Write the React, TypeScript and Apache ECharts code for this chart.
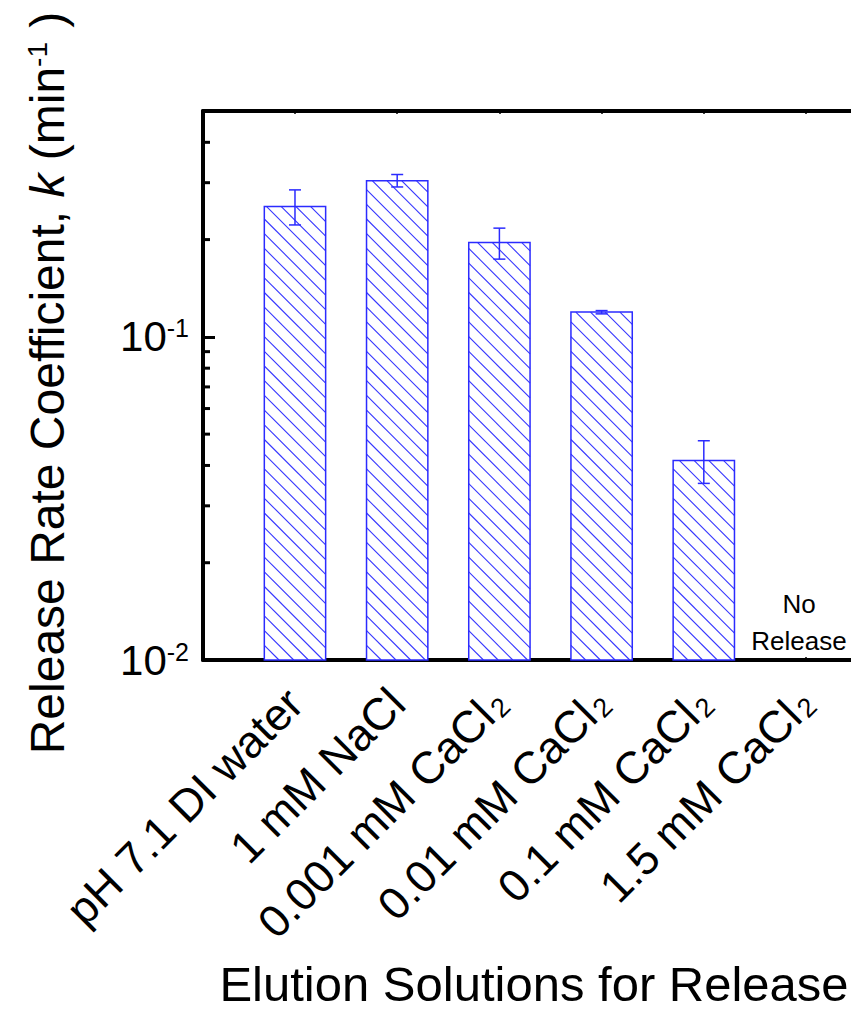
import React, { useEffect, useRef } from 'react';
import * as echarts from 'echarts';

// ---------- data ----------
const solutions = [
  'pH 7.1 DI water',
  '1 mM NaCl',
  '0.001 mM CaCl2',
  '0.01 mM CaCl2',
  '0.1 mM CaCl2',
  '1.5 mM CaCl2',
];
const xPositions = [1, 2, 3, 4, 5, 6];
const kMean: (number | null)[] = [0.253, 0.304, 0.196, 0.1193, 0.0414, null];
const kUpper: (number | null)[] = [0.285, 0.318, 0.217, 0.1206, 0.0477, null];
const kLower: (number | null)[] = [0.222, 0.291, 0.174, 0.1178, 0.0352, null];
const yMinorTicks = [0.02, 0.03, 0.04, 0.05, 0.06, 0.07, 0.08, 0.09, 0.2, 0.3, 0.4];
const noReleaseText = 'No\nRelease';

const X_MIN = 0.1;
const X_MAX = 6.9;
const Y_MIN = 0.01;
const Y_MAX = 0.5;

const FONT = "Arial, 'Liberation Sans', Helvetica, sans-serif";
const BLUE = '#3636ff';
const BLUE_EDGE = '#2b2bff';

export default function App() {
  const ref = useRef<HTMLDivElement>(null);
  useEffect(() => {
    document.body.style.margin = '0';
    const chart = echarts.init(ref.current!, null, { renderer: 'svg' });

    const barData = xPositions
      .map((x, i) => [x, kMean[i]])
      .filter((d) => d[1] != null);
    const errData = xPositions
      .map((x, i) => [x, kLower[i], kUpper[i]])
      .filter((d) => d[1] != null);
    const noRelData = xPositions.filter((_, i) => kMean[i] == null).map((x) => [x, Y_MIN]);

    const HATCH_STEP = 14.7;

    const option: any = {
      animation: false,
      backgroundColor: '#ffffff',
      grid: {
        left: 203,
        top: 111,
        width: 695,
        height: 549,
        outerBoundsMode: 'none',
      },
      xAxis: [
        {
          type: 'value',
          min: X_MIN,
          max: X_MAX,
          position: 'bottom',
          splitLine: { show: false },
          axisLine: { show: true, onZero: false, lineStyle: { color: '#000', width: 4 } },
          axisTick: {
            show: true,
            inside: true,
            length: 3,
            lineStyle: { color: '#000', width: 1.5 },
            customValues: xPositions,
          },
          axisLabel: {
            show: true,
            customValues: xPositions,
            rotate: 45,
            margin: 36,
            fontSize: 45,
            fontFamily: FONT,
            color: '#000',
            formatter: (v: number) => {
              const s = solutions[Math.round(v) - 1] || '';
              return s.replace(/CaCl2$/, 'CaCl{sub|2}');
            },
            rich: {
              sub: {
                fontSize: 27,
                fontFamily: FONT,
                color: '#000',
                verticalAlign: 'bottom',
                lineHeight: 27,
                padding: [30, 0, 0, 3],
              },
            },
          },
        },
        {
          type: 'value',
          min: X_MIN,
          max: X_MAX,
          position: 'top',
          splitLine: { show: false },
          axisLine: { show: true, onZero: false, lineStyle: { color: '#000', width: 4 } },
          axisTick: {
            show: true,
            inside: true,
            length: 3,
            lineStyle: { color: '#000', width: 1.5 },
            customValues: xPositions,
          },
          axisLabel: { show: false },
        },
      ],
      yAxis: [
        {
          type: 'log',
          logBase: 10,
          min: Y_MIN,
          max: Y_MAX,
          position: 'left',
          splitLine: { show: false },
          axisLine: { show: true, onZero: false, lineStyle: { color: '#000', width: 4 } },
          axisTick: { show: true, inside: true, length: 12, lineStyle: { color: '#000', width: 3 } },
          minorTick: { show: false },
          axisLabel: {
            showMaxLabel: false,
            margin: 14,
            fontSize: 42,
            fontFamily: FONT,
            color: '#000',
            formatter: (v: number) => {
              const e = Math.round(Math.log10(v));
              if (Math.abs(Math.log10(v) - e) > 1e-6) return '';
              return '10{sup|' + e + '}';
            },
            rich: {
              sup: {
                fontSize: 25,
                fontFamily: FONT,
                color: '#000',
                verticalAlign: 'top',
                lineHeight: 25,
                padding: [0, 0, 20, 0],
              },
            },
          },
        },
      ],
      series: [
        {
          type: 'custom',
          name: 'k',
          xAxisIndex: 0,
          yAxisIndex: 0,
          data: barData,
          renderItem: (params: any, api: any) => {
            const x = api.value(0);
            const v = api.value(1);
            const pl = api.coord([x - 0.3, v]);
            const pr = api.coord([x + 0.3, v]);
            const pb = api.coord([x, Y_MIN]);
            const left = pl[0];
            const right = pr[0];
            const top = pl[1];
            const bottom = pb[1];
            const children: any[] = [];
            children.push({
              type: 'rect',
              shape: { x: left, y: top, width: right - left, height: bottom - top },
              style: { fill: '#fff', stroke: 'none' },
            });
            const cMax = bottom - left;
            const cMin = top - right;
            for (let c = cMax; c > cMin; c -= HATCH_STEP) {
              const xs = Math.max(left, top - c);
              const xe = Math.min(right, bottom - c);
              if (xe - xs > 0.5) {
                children.push({
                  type: 'line',
                  shape: { x1: xs, y1: xs + c, x2: xe, y2: xe + c },
                  style: { stroke: BLUE, lineWidth: 1.1 },
                });
              }
            }
            children.push({
              type: 'rect',
              shape: { x: left, y: top, width: right - left, height: bottom - top },
              style: { fill: 'none', stroke: BLUE_EDGE, lineWidth: 1.5 },
            });
            return { type: 'group', children };
          },
        },
        {
          type: 'custom',
          name: 'err',
          xAxisIndex: 0,
          yAxisIndex: 0,
          data: errData,
          renderItem: (params: any, api: any) => {
            const x = api.value(0);
            const lo = api.coord([x, api.value(1)]);
            const hi = api.coord([x, api.value(2)]);
            const cap = 6;
            const style = { stroke: BLUE_EDGE, lineWidth: 1.5 };
            return {
              type: 'group',
              children: [
                { type: 'line', shape: { x1: lo[0], y1: lo[1], x2: hi[0], y2: hi[1] }, style },
                { type: 'line', shape: { x1: hi[0] - cap, y1: hi[1], x2: hi[0] + cap, y2: hi[1] }, style },
                { type: 'line', shape: { x1: lo[0] - cap, y1: lo[1], x2: lo[0] + cap, y2: lo[1] }, style },
              ],
            };
          },
        },
        {
          type: 'custom',
          name: 'minorTicks',
          xAxisIndex: 0,
          yAxisIndex: 0,
          data: yMinorTicks.map((v) => [X_MIN, v]),
          silent: true,
          renderItem: (params: any, api: any) => {
            const p = api.coord([api.value(0), api.value(1)]);
            return {
              type: 'line',
              shape: { x1: p[0], y1: p[1], x2: p[0] + 7, y2: p[1] },
              style: { stroke: '#000', lineWidth: 3 },
            };
          },
        },
        {
          type: 'custom',
          name: 'noRelease',
          xAxisIndex: 0,
          yAxisIndex: 0,
          data: noRelData,
          silent: true,
          renderItem: (params: any, api: any) => {
            const p = api.coord([api.value(0), api.value(1)]);
            return {
              type: 'text',
              x: p[0] - 7,
              y: p[1] - 1,
              style: {
                text: noReleaseText,
                fontSize: 26,
                fontFamily: FONT,
                fill: '#000',
                align: 'center',
                verticalAlign: 'bottom',
                lineHeight: 37,
              },
            };
          },
        },
      ],
      graphic: [
        {
          type: 'text',
          x: 47,
          y: 383,
          rotation: Math.PI / 2,
          style: {
            text: 'Release Rate Coefficient, {i|k} (min{sup|-1} )',
            fontSize: 48,
            fontFamily: FONT,
            fill: '#000',
            align: 'center',
            verticalAlign: 'middle',
            rich: {
              i: { fontSize: 48, fontFamily: FONT, fontStyle: 'italic', fill: '#000' },
              sup: {
                fontSize: 28,
                fontFamily: FONT,
                fill: '#000',
                verticalAlign: 'top',
                lineHeight: 28,
                padding: [0, 1, 23, 0],
              },
            },
          },
        },
        {
          type: 'text',
          x: 534,
          y: 984,
          style: {
            text: 'Elution Solutions for Release',
            fontSize: 49,
            fontFamily: FONT,
            fill: '#000',
            align: 'center',
            verticalAlign: 'middle',
          },
        },
      ],
    };

    chart.setOption(option);
    return () => chart.dispose();
  }, []);

  return (
    <div style={{ width: 851, height: 1018, overflow: 'hidden', position: 'relative', background: '#fff' }}>
      <div ref={ref} style={{ width: 960, height: 1018 }} />
    </div>
  );
}
